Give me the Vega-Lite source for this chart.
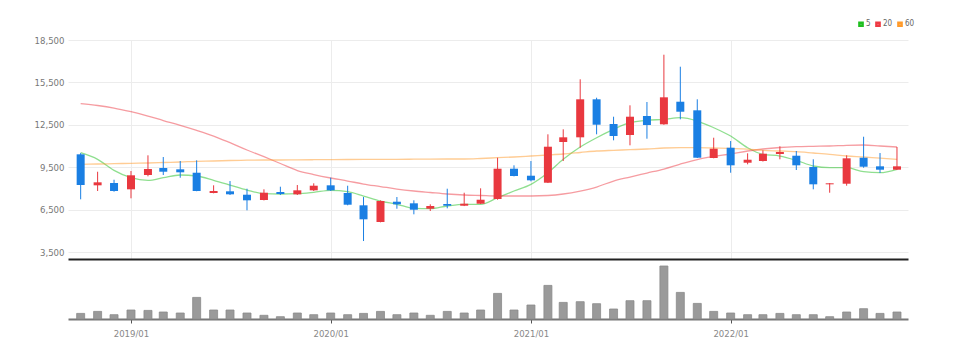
{
  "$schema": "https://vega.github.io/schema/vega-lite/v6.json",
  "background": "white",
  "padding": {"left": 34, "top": 20, "right": 5, "bottom": 5},
  "spacing": 4,
  "config": {
    "view": {"stroke": null},
    "font": "Liberation Sans Narrow, DejaVu Sans Condensed, sans-serif",
    "axis": {"labelFont": "Liberation Sans Narrow, DejaVu Sans Condensed, sans-serif", "titleFont": "Liberation Sans Narrow, sans-serif"},
    "legend": {"labelFont": "Liberation Sans Narrow, DejaVu Sans Condensed, sans-serif"}
  },
  "datasets": {
    "m": [
      {"d": "2018/10/01", "o": 10412, "h": 10500, "l": 7228, "c": 8240, "v": 56000, "m5": 10526, "m20": 13992, "m60": 9705},
      {"d": "2018/11/01", "o": 8219, "h": 9181, "l": 7816, "c": 8431, "v": 76000, "m5": 10059, "m20": 13865, "m60": 9726},
      {"d": "2018/12/01", "o": 8382, "h": 8615, "l": 7768, "c": 7816, "v": 43000, "m5": 9280, "m20": 13688, "m60": 9747},
      {"d": "2019/01/01", "o": 7936, "h": 9231, "l": 7299, "c": 8927, "v": 90000, "m5": 8757, "m20": 13426, "m60": 9776},
      {"d": "2019/02/01", "o": 8948, "h": 10341, "l": 8856, "c": 9372, "v": 86000, "m5": 8573, "m20": 13122, "m60": 9797},
      {"d": "2019/03/01", "o": 9443, "h": 10221, "l": 8948, "c": 9181, "v": 70000, "m5": 8757, "m20": 12804, "m60": 9832},
      {"d": "2019/04/01", "o": 9351, "h": 9938, "l": 8757, "c": 9139, "v": 60000, "m5": 8948, "m20": 12464, "m60": 9868},
      {"d": "2019/05/01", "o": 9110, "h": 9988, "l": 7800, "c": 7816, "v": 216000, "m5": 8877, "m20": 12110, "m60": 9917},
      {"d": "2019/06/01", "o": 7674, "h": 8219, "l": 7650, "c": 7816, "v": 90000, "m5": 8573, "m20": 11707, "m60": 9938},
      {"d": "2019/07/01", "o": 7795, "h": 8523, "l": 7533, "c": 7582, "v": 90000, "m5": 8240, "m20": 11233, "m60": 9974},
      {"d": "2019/08/01", "o": 7554, "h": 7979, "l": 6450, "c": 7158, "v": 60000, "m5": 7887, "m20": 10717, "m60": 9995},
      {"d": "2019/09/01", "o": 7179, "h": 7936, "l": 7150, "c": 7695, "v": 37000, "m5": 7625, "m20": 10242, "m60": 10009},
      {"d": "2019/10/01", "o": 7745, "h": 8120, "l": 7533, "c": 7604, "v": 23000, "m5": 7604, "m20": 9761, "m60": 10009},
      {"d": "2019/11/01", "o": 7582, "h": 8240, "l": 7533, "c": 7865, "v": 60000, "m5": 7625, "m20": 9266, "m60": 10023},
      {"d": "2019/12/01", "o": 7865, "h": 8361, "l": 7816, "c": 8191, "v": 43000, "m5": 7724, "m20": 8983, "m60": 10030},
      {"d": "2020/01/01", "o": 8219, "h": 8757, "l": 7816, "c": 7865, "v": 60000, "m5": 7865, "m20": 8736, "m60": 10037},
      {"d": "2020/02/01", "o": 7674, "h": 8191, "l": 6804, "c": 6847, "v": 43000, "m5": 7766, "m20": 8523, "m60": 10044},
      {"d": "2020/03/01", "o": 6804, "h": 7391, "l": 4278, "c": 5814, "v": 56000, "m5": 7462, "m20": 8311, "m60": 10051},
      {"d": "2020/04/01", "o": 5623, "h": 7150, "l": 5600, "c": 7108, "v": 76000, "m5": 7108, "m20": 8134, "m60": 10059},
      {"d": "2020/05/01", "o": 7059, "h": 7391, "l": 6563, "c": 6875, "v": 43000, "m5": 6875, "m20": 7957, "m60": 10059},
      {"d": "2020/06/01", "o": 6946, "h": 7158, "l": 6167, "c": 6493, "v": 60000, "m5": 6592, "m20": 7816, "m60": 10066},
      {"d": "2020/07/01", "o": 6563, "h": 6875, "l": 6401, "c": 6755, "v": 37000, "m5": 6563, "m20": 7710, "m60": 10073},
      {"d": "2020/08/01", "o": 6896, "h": 7979, "l": 6592, "c": 6776, "v": 76000, "m5": 6755, "m20": 7604, "m60": 10080},
      {"d": "2020/09/01", "o": 6776, "h": 7695, "l": 6750, "c": 6917, "v": 60000, "m5": 6875, "m20": 7533, "m60": 10080},
      {"d": "2020/10/01", "o": 6917, "h": 8007, "l": 6900, "c": 7200, "v": 90000, "m5": 6875, "m20": 7497, "m60": 10115},
      {"d": "2020/11/01", "o": 7250, "h": 10172, "l": 7200, "c": 9394, "v": 256000, "m5": 7342, "m20": 7462, "m60": 10172},
      {"d": "2020/12/01", "o": 9394, "h": 9634, "l": 8850, "c": 8877, "v": 90000, "m5": 7816, "m20": 7462, "m60": 10221},
      {"d": "2021/01/01", "o": 8898, "h": 9938, "l": 8500, "c": 8573, "v": 140000, "m5": 8290, "m20": 7462, "m60": 10292},
      {"d": "2021/02/01", "o": 8403, "h": 11827, "l": 8380, "c": 10950, "v": 336000, "m5": 9110, "m20": 7497, "m60": 10363},
      {"d": "2021/03/01", "o": 11283, "h": 12181, "l": 9938, "c": 11615, "v": 166000, "m5": 10059, "m20": 7604, "m60": 10434},
      {"d": "2021/04/01", "o": 11615, "h": 15719, "l": 10879, "c": 14304, "v": 173000, "m5": 10929, "m20": 7816, "m60": 10540},
      {"d": "2021/05/01", "o": 14304, "h": 14417, "l": 11827, "c": 12507, "v": 153000, "m5": 11587, "m20": 8099, "m60": 10646},
      {"d": "2021/06/01", "o": 12556, "h": 13073, "l": 11403, "c": 11707, "v": 100000, "m5": 12181, "m20": 8523, "m60": 10695},
      {"d": "2021/07/01", "o": 11778, "h": 13879, "l": 11049, "c": 13073, "v": 183000, "m5": 12648, "m20": 8806, "m60": 10738},
      {"d": "2021/08/01", "o": 13122, "h": 14113, "l": 11516, "c": 12485, "v": 183000, "m5": 12818, "m20": 9089, "m60": 10787},
      {"d": "2021/09/01", "o": 12535, "h": 17459, "l": 12500, "c": 14445, "v": 530000, "m5": 12888, "m20": 9372, "m60": 10858},
      {"d": "2021/10/01", "o": 14134, "h": 16610, "l": 12888, "c": 13426, "v": 266000, "m5": 13002, "m20": 9726, "m60": 10879},
      {"d": "2021/11/01", "o": 13525, "h": 14304, "l": 10150, "c": 10172, "v": 156000, "m5": 12768, "m20": 10044, "m60": 10879},
      {"d": "2021/12/01", "o": 10151, "h": 11587, "l": 10130, "c": 10808, "v": 76000, "m5": 12294, "m20": 10257, "m60": 10858},
      {"d": "2022/01/01", "o": 10879, "h": 11353, "l": 9110, "c": 9634, "v": 60000, "m5": 11707, "m20": 10434, "m60": 10837},
      {"d": "2022/02/01", "o": 9818, "h": 10483, "l": 9705, "c": 10030, "v": 43000, "m5": 10879, "m20": 10646, "m60": 10773},
      {"d": "2022/03/01", "o": 9938, "h": 10695, "l": 9900, "c": 10455, "v": 43000, "m5": 10412, "m20": 10787, "m60": 10695},
      {"d": "2022/04/01", "o": 10434, "h": 10978, "l": 10059, "c": 10575, "v": 56000, "m5": 10292, "m20": 10893, "m60": 10646},
      {"d": "2022/05/01", "o": 10313, "h": 10646, "l": 9302, "c": 9634, "v": 43000, "m5": 9988, "m20": 10950, "m60": 10596},
      {"d": "2022/06/01", "o": 9514, "h": 10059, "l": 7936, "c": 8290, "v": 43000, "m5": 9585, "m20": 10978, "m60": 10504},
      {"d": "2022/07/01", "o": 8290, "h": 8380, "l": 7695, "c": 8361, "v": 23000, "m5": 9464, "m20": 11000, "m60": 10412},
      {"d": "2022/08/01", "o": 8332, "h": 10341, "l": 8191, "c": 10129, "v": 70000, "m5": 9464, "m20": 11049, "m60": 10292},
      {"d": "2022/09/01", "o": 10172, "h": 11657, "l": 9464, "c": 9535, "v": 103000, "m5": 9181, "m20": 11070, "m60": 10221},
      {"d": "2022/10/01", "o": 9563, "h": 10504, "l": 9089, "c": 9323, "v": 56000, "m5": 9110, "m20": 11000, "m60": 10137},
      {"d": "2022/11/01", "o": 9323, "h": 10929, "l": 9300, "c": 9563, "v": 70000, "m5": 9351, "m20": 10929, "m60": 10059}
    ]
  },
  "vconcat": [
    {
      "width": 840,
      "height": 219,
      "data": {"name": "m"},
      "encoding": {
        "x": {
          "field": "d",
          "type": "temporal",
          "scale": {"domain": [{"year": 2018, "month": 9, "date": 17}, {"year": 2022, "month": 11, "date": 12}]},
          "axis": {
            "title": null,
            "labels": false,
            "ticks": false,
            "domain": true,
            "domainColor": "#222222",
            "domainWidth": 2,
            "grid": true,
            "gridColor": "#ececec",
            "values": [{"year": 2019, "month": 1, "date": 1}, {"year": 2020, "month": 1, "date": 1}, {"year": 2021, "month": 1, "date": 1}, {"year": 2022, "month": 1, "date": 1}]
          }
        }
      },
      "layer": [
        {
          "transform": [{"fold": ["m5", "m20", "m60"], "as": ["k", "val"]}],
          "mark": {"type": "line", "interpolate": "monotone", "strokeWidth": 1.3, "strokeOpacity": 0.5},
          "encoding": {
            "y": {
              "field": "val",
              "type": "quantitative",
              "scale": {"domain": [3006, 18500], "nice": false, "zero": false},
              "axis": {
                "title": null,
                "domain": false,
                "ticks": false,
                "grid": true,
                "gridColor": "#ececec",
                "values": [3500, 6500, 9500, 12500, 15500, 18500],
                "format": ",.0f",
                "labelColor": "#777777",
                "labelFontSize": 9.5,
                "labelPadding": 4
              }
            },
            "color": {
              "field": "k",
              "type": "nominal",
              "scale": {"domain": ["m5", "m20", "m60"], "range": ["#1fbf1f", "#ee3a44", "#ff9a2a"]},
              "legend": {
                "title": null,
                "orient": "none",
                "legendX": 789,
                "legendY": -20,
                "direction": "horizontal",
                "symbolType": "square",
                "symbolSize": 10,
                "symbolStrokeWidth": 2.5,
                "labelFontSize": 8,
                "labelColor": "#666666",
                "labelOffset": 1,
                "columnPadding": 0,
                "labelExpr": "{'m5':'5','m20':'20','m60':'60'}[datum.label]"
              }
            },
            "detail": {"field": "k"}
          }
        },
        {
          "mark": {"type": "rule", "strokeWidth": 1},
          "encoding": {
            "y": {"field": "l", "type": "quantitative"},
            "y2": {"field": "h"},
            "color": {"condition": {"test": "datum.c >= datum.o", "value": "#e9383f"}, "value": "#1a7fe3"}
          }
        },
        {
          "mark": {"type": "bar", "width": 8},
          "encoding": {
            "y": {"field": "o", "type": "quantitative"},
            "y2": {"field": "c"},
            "color": {"condition": {"test": "datum.c >= datum.o", "value": "#e9383f"}, "value": "#1a7fe3"}
          }
        }
      ]
    },
    {
      "width": 840,
      "height": 56,
      "data": {"name": "m"},
      "mark": {"type": "bar", "width": 8, "color": "#9a9a9a", "stroke": "#8a8a8a", "strokeWidth": 0.8},
      "encoding": {
        "x": {
          "field": "d",
          "type": "temporal",
          "scale": {"domain": [{"year": 2018, "month": 9, "date": 17}, {"year": 2022, "month": 11, "date": 12}]},
          "axis": {
            "title": null,
            "format": "%Y/%m",
            "values": [{"year": 2019, "month": 1, "date": 1}, {"year": 2020, "month": 1, "date": 1}, {"year": 2021, "month": 1, "date": 1}, {"year": 2022, "month": 1, "date": 1}],
            "grid": false,
            "domainColor": "#777777",
            "domainWidth": 2,
            "tickColor": "#555555",
            "tickSize": 4,
            "labelColor": "#888888",
            "labelFontSize": 9.5,
            "labelPadding": 5
          }
        },
        "y": {
          "field": "v",
          "type": "quantitative",
          "scale": {"domain": [0, 560000], "nice": false},
          "axis": null
        }
      }
    }
  ]
}
